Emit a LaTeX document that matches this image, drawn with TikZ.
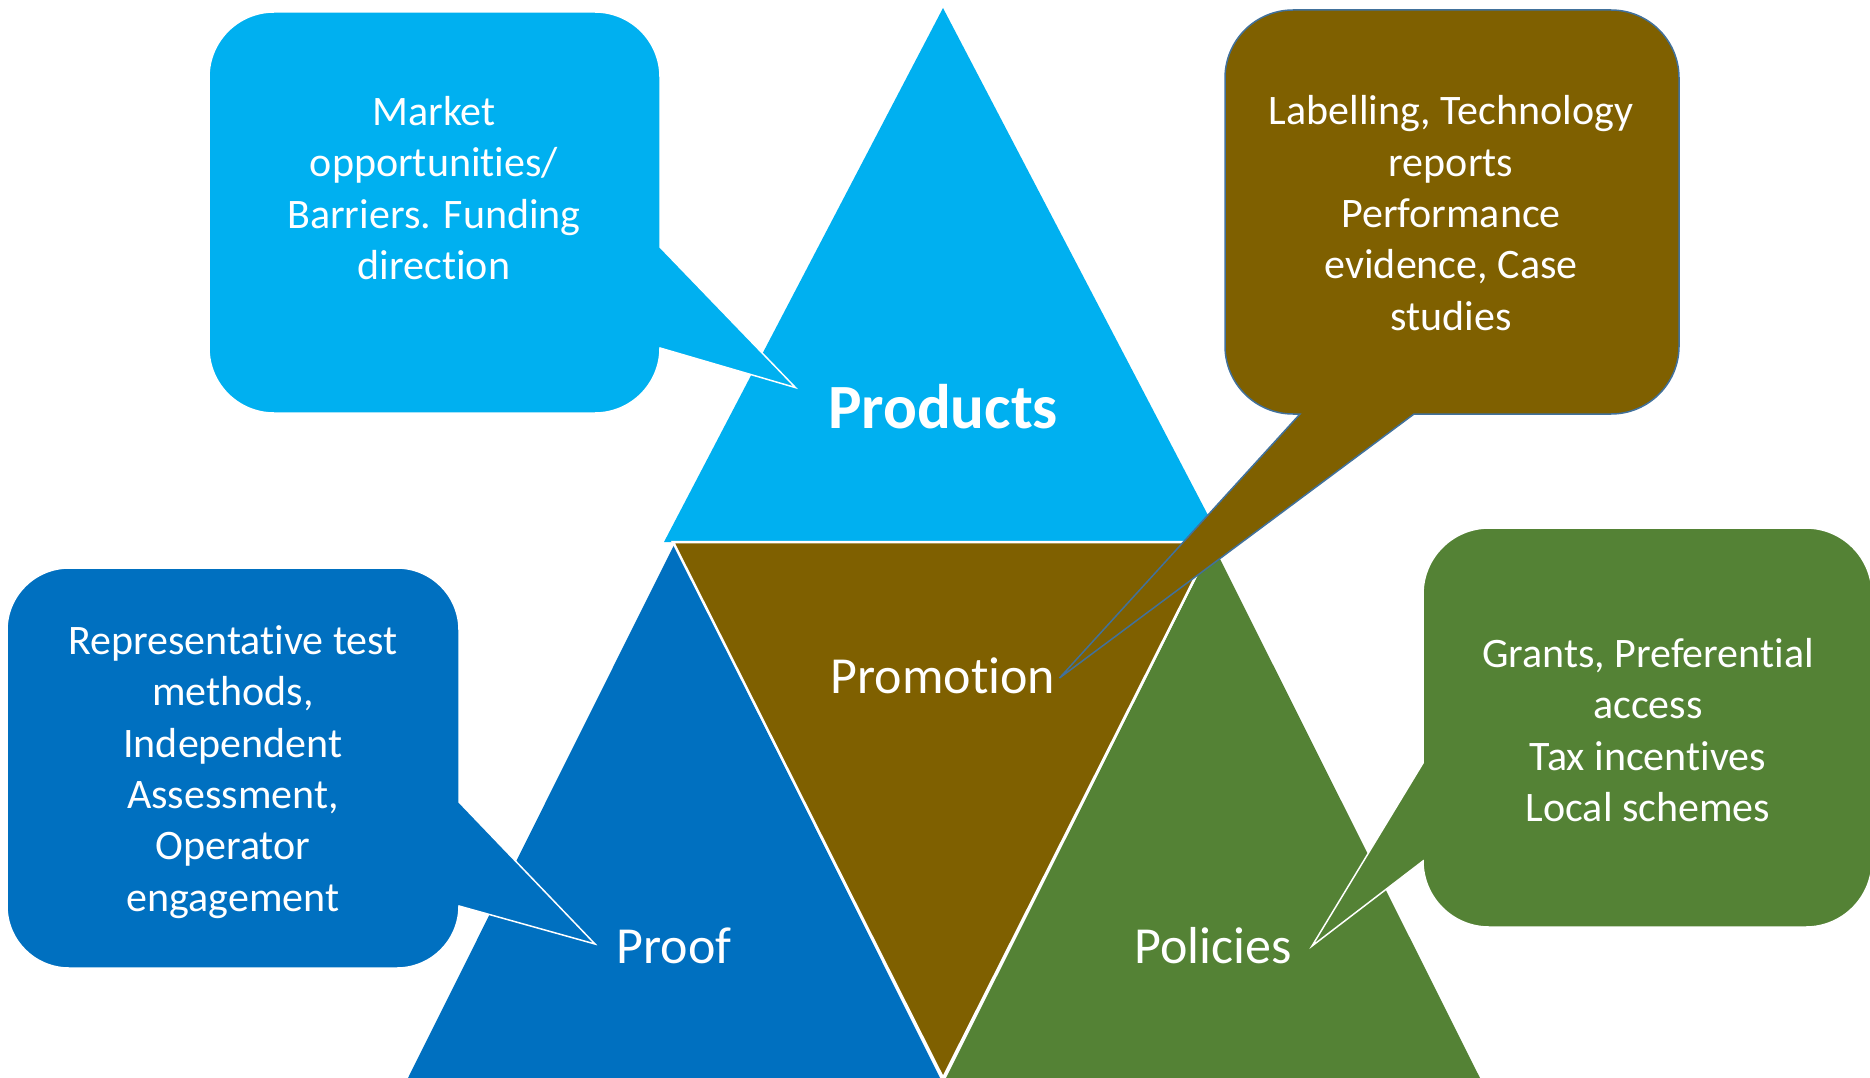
\documentclass[tikz,border=0pt]{standalone}
\usepackage{fontspec}
\setmainfont{Carlito}[Ligatures={NoCommon,NoContextual}]
\newcommand\nl{\kern0pt }
\definecolor{lblue}{HTML}{00B0F0}
\definecolor{dblue}{HTML}{0070C0}
\definecolor{cbrown}{HTML}{7F6000}
\definecolor{cgreen}{HTML}{548235}
\definecolor{steel}{HTML}{41719C}
\tikzset{
  calloutbox/.style={draw=white, line width=1.5pt, line join=miter},
  ctext/.style={text=white, align=center, inner sep=0pt, font=\fontsize{42}{51.3}\selectfont},
  tlabel/.style={text=white, inner sep=0pt, font=\fontsize{52}{62}\selectfont},
}
\begin{document}
\begin{tikzpicture}[x=1pt,y=1pt]
\useasboundingbox (0,0) rectangle (1870,-1078);
\clip (0,0) rectangle (1870,-1078);
\fill[white] (0,0) rectangle (1870,-1078);
% triangles
\fill[lblue] (943,-8) -- (664,-542) -- (1222,-542) -- cycle;
\fill[dblue] (674,-545) -- (402,-1090) -- (946,-1090) -- cycle;
\fill[cgreen] (1213,-545) -- (940,-1090) -- (1486,-1090) -- cycle;
\filldraw[fill=cbrown, draw=white, line width=2.5pt, line join=miter] (673,-542) -- (1213,-542) -- (943,-1078) -- cycle;
% Market callout
\filldraw[calloutbox, fill=lblue] (274,-12) -- (595,-12) arc[start angle=90,end angle=0,radius=65] -- (660,-247) -- (795.5,-387.6) -- (660,-348) arc[start angle=0,end angle=-90,radius=65] -- (274,-413) arc[start angle=-90,end angle=-180,radius=65] -- (209,-77) arc[start angle=180,end angle=90,radius=65] -- cycle;
% Labelling callout
\filldraw[calloutbox, draw=steel, fill=cbrown] (1293,-10) -- (1611,-10) arc[start angle=90,end angle=0,radius=68] -- (1679,-346) arc[start angle=0,end angle=-90,radius=68] -- (1414,-414) -- (1059.5,-678) -- (1300,-414) -- (1293,-414) arc[start angle=-90,end angle=-180,radius=68] -- (1225,-78) arc[start angle=180,end angle=90,radius=68] -- cycle;
% Representative callout
\filldraw[calloutbox, fill=dblue] (69,-568) -- (397,-568) arc[start angle=90,end angle=0,radius=62] -- (459,-802) -- (595,-944) -- (459,-906) arc[start angle=0,end angle=-90,radius=62] -- (69,-968) arc[start angle=-90,end angle=-180,radius=62] -- (7,-630) arc[start angle=180,end angle=90,radius=62] -- cycle;
% Grants callout
\filldraw[calloutbox, fill=cgreen] (1489,-528) -- (1806,-528) arc[start angle=90,end angle=0,radius=66] -- (1872,-861) arc[start angle=0,end angle=-90,radius=66] -- (1489,-927) arc[start angle=-90,end angle=-180,radius=66] -- (1312,-946) -- (1423,-763) -- (1423,-594) arc[start angle=180,end angle=90,radius=66] -- cycle;
% texts
\node[ctext] (mkt) at (434,-188) {Market\\opportunit\nl ies/\\Barriers. Funding\\direction};
\node[ctext] (lab) at (1451,-213) {Labelling, Technology\\reports\\Performance\\evidence, Case\\studies};
\node[ctext] (rep) at (233,-772) {Representat\nl ive test\\methods,\\Independent\\Assessment,\\Operator\\engagement};
\node[ctext] (grt) at (1648,-730) {Grants, Preferential\\access\\Tax incent\nl ives\\Local schemes};
\node[tlabel, font=\fontsize{63}{75}\selectfont\bfseries] (products) at (943,-407) {Products};
\node[tlabel] (promotion) at (943,-676) {Promot\nl ion};
\node[tlabel] (proof) at (674,-946) {Proof};
\node[tlabel] (policies) at (1213,-946) {Policies};
\end{tikzpicture}
\end{document}
